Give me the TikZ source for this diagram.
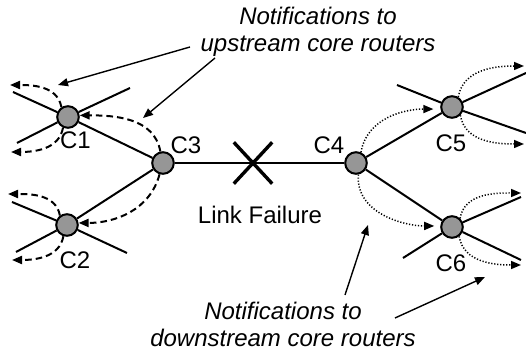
\documentclass[tikz,border=0pt]{standalone}
\usepackage{fontspec}
\setmainfont{Liberation Sans}
\usetikzlibrary{arrows.meta,shapes.misc}
\definecolor{routergray}{RGB}{150,150,150}
\begin{document}
\begin{tikzpicture}[x=0.5pt,y=0.5pt,
    router/.style={circle,draw,fill=routergray,line width=1pt,minimum size=10.8pt,inner sep=0pt},
    link/.style={line width=1pt},
    upnote/.style={-{Triangle[length=5pt,width=4pt]},line width=1pt,dash pattern=on 3.3pt off 2pt},
    downnote/.style={-{Triangle[length=5pt,width=4pt]},line width=0.75pt,dash pattern=on 0.6pt off 0.9pt},
    callout/.style={-{Triangle[length=5pt,width=4pt]},line width=0.7pt},
    lbl/.style={inner sep=0pt,font=\fontsize{12}{13.5}\selectfont}]
    \useasboundingbox (0,0) rectangle (526,353);

    \node(C1) at (68,236) [router] {};
    \node(C2) at (67,128) [router] {};
    \node(C3) at (163,190) [router] {};
    \node(C4) at (356,190) [router] {};
    \node(C5) at (452,246) [router] {};
    \node(C6) at (452,126) [router] {};

    \node(l1) at (75.5,213) [lbl] {C1};
    \node(l2) at (75,93) [lbl] {C2};
    \node(l3) at (186,208) [lbl] {C3};
    \node(l4) at (329,208) [lbl] {C4};
    \node(l5) at (451,210) [lbl] {C5};
    \node(l6) at (451,90) [lbl] {C6};

    \coordinate (c1a) at (13,261);
    \coordinate (c1b) at (17,210);
    \coordinate (c1c) at (130,265);
    \coordinate (c2a) at (12,151);
    \coordinate (c2b) at (127,100);
    \coordinate (c2c) at (16,101);
    \coordinate (c5a) at (397,268);
    \coordinate (c5b) at (526,280);
    \coordinate (c5c) at (526,220);
    \coordinate (c6a) at (403,95);
    \coordinate (c6b) at (521,156);
    \coordinate (c6c) at (521,93);

    \draw[link] (c1a) -- (C1) -- (C3);
    \draw[link] (c1b) -- (C1) -- (c1c);
    \draw[link] (c2a) -- (C2) -- (c2b);
    \draw[link] (c2c) -- (C2) -- (C3);
    \draw[link] (C3) -- (C4);
    \draw[link] (C4) -- (C5) -- (c5b);
    \draw[link] (c5a) -- (C5) -- (c5c);
    \draw[link] (C4) -- (C6) -- (c6c);
    \draw[link] (c6a) -- (C6) -- (c6b);

    \node(fail) at (253,190) [cross out,draw,line width=1.7pt,minimum width=17.5pt,minimum height=19pt,inner sep=0pt] {};
    \node(failtext) at (260,138) [lbl] {Link Failure};

    \coordinate (u1) at (10,268);
    \coordinate (u2) at (11,201);
    \coordinate (u3) at (8,159);
    \coordinate (u4) at (12,93);
    \draw[upnote] (C1.124) to[out=100,in=0] (u1);
    \draw[upnote] (C1.245) to[out=-100,in=0] (u2);
    \draw[upnote] (C2.127) to[out=100,in=0] (u3);
    \draw[upnote] (C2.252) to[out=-100,in=0] (u4);
    \draw[upnote] (C3.103) to[out=100,in=0] (C1.8);
    \draw[upnote] (C3.253) to[out=-105,in=0] (C2.10);

    \coordinate (d1) at (524,287);
    \coordinate (d2) at (524,209);
    \coordinate (d3) at (521,160);
    \coordinate (d4) at (521,88);
    \draw[downnote,shorten >=3.5pt] (C4.65) to[out=80,in=180] (C5.190);
    \draw[downnote,shorten >=3pt] (C4.-78) to[out=-95,in=180] (C6.175);
    \draw[downnote] (C5.58) to[out=80,in=180] (d1);
    \draw[downnote] (C5.-45) to[out=-80,in=180] (d2);
    \draw[downnote] (C6.47) to[out=80,in=180] (d3);
    \draw[downnote] (C6.-53) to[out=-80,in=180] (d4);

    \node(upnote) at (318,346.5) [lbl,anchor=north,align=center] {\itshape Notifications to\\\itshape upstream core routers};
    \node(downnote) at (283,51.5) [lbl,anchor=north,align=center] {\itshape Notifications to\\\itshape downstream core routers};

    \coordinate (up1s) at (190,306);
    \coordinate (up1t) at (58,268);
    \coordinate (up2s) at (215,295);
    \coordinate (up2t) at (143,235);
    \coordinate (dn1s) at (345,58);
    \coordinate (dn1t) at (368,128);
    \coordinate (dn2s) at (395,35);
    \coordinate (dn2t) at (485,76);
    \draw[callout] (up1s) -- (up1t);
    \draw[callout] (up2s) -- (up2t);
    \draw[callout] (dn1s) -- (dn1t);
    \draw[callout] (dn2s) -- (dn2t);
\end{tikzpicture}
\end{document}
